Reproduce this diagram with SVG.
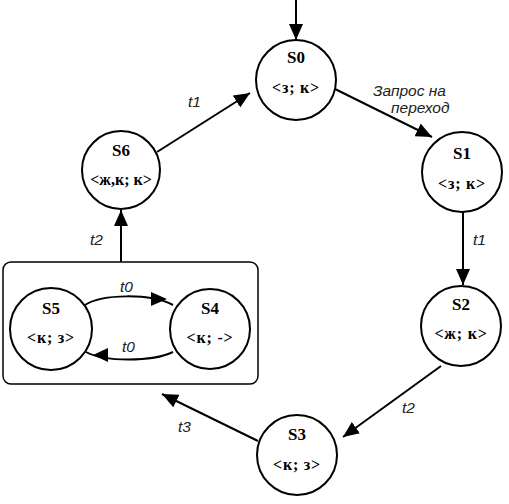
<svg xmlns="http://www.w3.org/2000/svg" width="509" height="504" viewBox="0 0 509 504">
<defs>
<marker id="ah" viewBox="0 0 16 14" refX="16" refY="7" markerWidth="16" markerHeight="14" markerUnits="userSpaceOnUse" orient="auto">
<path d="M0,0 L16,7 L0,14 Z" fill="#000"/>
</marker>
</defs>
<style>
.st{fill:#fff;stroke:#000;stroke-width:2}
.nm{font-family:"Liberation Serif",serif;font-weight:bold;font-size:17px;text-anchor:middle}
.vl{font-family:"Liberation Serif",serif;font-weight:bold;font-size:16px;letter-spacing:0.8px;text-anchor:middle}
.lb{font-family:"Liberation Sans",sans-serif;font-style:italic;font-size:15.5px;fill:#222}
.ln{fill:none;stroke:#000;stroke-width:2}
.ar{stroke:none;fill:#000}
</style>
<rect x="3" y="262" width="255" height="122" rx="8" fill="#fff" stroke="#000" stroke-width="1.5"/>
<g id="connectors">
<line class="ln" x1="296" y1="0" x2="296" y2="40" marker-end="url(#ah)"/>
<line class="ln" x1="335" y1="89" x2="432" y2="137" marker-end="url(#ah)"/>
<line class="ln" x1="463" y1="212" x2="463" y2="285" marker-end="url(#ah)"/>
<line class="ln" x1="441" y1="366" x2="343" y2="437" marker-end="url(#ah)"/>
<line class="ln" x1="258" y1="441" x2="162" y2="394" marker-end="url(#ah)"/>
<line class="ln" x1="121" y1="262" x2="121" y2="210" marker-end="url(#ah)"/>
<line class="ln" x1="157" y1="152" x2="250" y2="93" marker-end="url(#ah)"/>
<path class="ln" d="M85,305 C102,294 150,293 173,305"/>
<polygon class="ar" points="167,299 151,292 151,306"/>
<path class="ln" d="M173,352 C152,362 104,362 86,352"/>
<polygon class="ar" points="93,355 108,348 108,362"/>
</g>
<g id="S0"><circle class="st" cx="296" cy="80" r="40"/><text class="nm" x="296" y="63">S0</text><text class="vl" x="296" y="93">&lt;з; к&gt;</text></g>
<g id="S1"><circle class="st" cx="462" cy="172" r="40"/><text class="nm" x="462" y="159">S1</text><text class="vl" x="462" y="189">&lt;з; к&gt;</text></g>
<g id="S2"><circle class="st" cx="461" cy="326" r="40"/><text class="nm" x="461" y="310">S2</text><text class="vl" x="461" y="339">&lt;ж; к&gt;</text></g>
<g id="S3"><circle class="st" cx="297" cy="455" r="40"/><text class="nm" x="297" y="440">S3</text><text class="vl" x="297" y="470">&lt;к; з&gt;</text></g>
<g id="S4"><circle class="st" cx="210" cy="329" r="40"/><text class="nm" x="210" y="314">S4</text><text class="vl" x="210" y="343">&lt;к; -&gt;</text></g>
<g id="S5"><circle class="st" cx="51" cy="329" r="41"/><text class="nm" x="51" y="314">S5</text><text class="vl" x="51" y="343">&lt;к; з&gt;</text></g>
<g id="S6"><circle class="st" cx="121" cy="170" r="39"/><text class="nm" x="121" y="156">S6</text><text class="vl" x="121" y="185" style="letter-spacing:0px">&lt;ж,к; к&gt;</text></g>
<g id="labels">
<text class="lb" x="373" y="96">Запрос на</text>
<text class="lb" x="391" y="113">переход</text>
<text class="lb" x="188" y="107">t1</text>
<text class="lb" x="473" y="245">t1</text>
<text class="lb" x="402" y="413">t2</text>
<text class="lb" x="178" y="432">t3</text>
<text class="lb" x="90" y="245">t2</text>
<text class="lb" x="120" y="292">t0</text>
<text class="lb" x="122" y="352">t0</text>
</g>
</svg>
